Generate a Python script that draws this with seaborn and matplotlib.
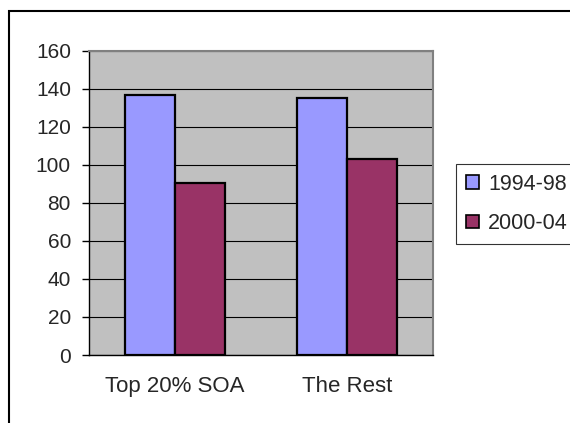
import matplotlib
matplotlib.use("Agg")
import matplotlib.pyplot as plt
from matplotlib.patches import Rectangle
import seaborn as sns
import pandas as pd

categories = ["Top 20% SOA", "The Rest"]
periods = ["1994-98", "2000-04"]
values_1994_98 = [137, 135]
values_2000_04 = [90.5, 103]
y_ticks = [0, 20, 40, 60, 80, 100, 120, 140, 160]

sns.set_style("white")
plt.rcParams["font.family"] = ["Liberation Sans", "DejaVu Sans"]

df = pd.DataFrame({
    "category": categories * 2,
    "period": [periods[0]] * 2 + [periods[1]] * 2,
    "value": values_1994_98 + values_2000_04,
})

W, H = 570, 423
fig = plt.figure(figsize=(W / 100, H / 100), dpi=100)
ax = fig.add_axes([89 / W, 1 - 355 / H, (433 - 89) / W, (355 - 51) / H])

sns.barplot(data=df, x="category", y="value", hue="period", order=categories,
            hue_order=periods, palette=["#9999FF", "#993366"], width=0.58,
            edgecolor="black", linewidth=1.6, ax=ax, saturation=1, legend=True)

ax.set_facecolor("#C0C0C0")
ax.set_xlim(-0.5, 1.5)
ax.set_ylim(0, 160)
ax.set_yticks(y_ticks)
ax.set_yticklabels([str(t) for t in y_ticks])
ax.set_axisbelow(True)
ax.grid(axis="y", color="black", linewidth=0.8)
ax.grid(axis="x", visible=False)
ax.set_xlabel("")
ax.set_ylabel("")

ax.tick_params(axis="x", which="major", length=0, pad=15, labelsize=16)
ax.set_xticks([-0.5, 0.5, 1.5], minor=True)
ax.tick_params(axis="x", which="minor", length=5, width=1, color="black", direction="out")
ax.tick_params(axis="y", length=5, width=1, color="black", direction="out", pad=8, labelsize=15)
ax.tick_params(bottom=True, left=True)

for s in ["left", "bottom"]:
    ax.spines[s].set_color("black")
    ax.spines[s].set_linewidth(1.0)
for s in ["top", "right"]:
    ax.spines[s].set_color("#808080")
    ax.spines[s].set_linewidth(1.5)

handles, labels = ax.get_legend_handles_labels()
ax.get_legend().remove()
leg = fig.legend(handles, labels, loc="upper left",
                 bbox_to_anchor=(456 / W, 1 - 164 / H), bbox_transform=fig.transFigure,
                 borderaxespad=0, frameon=True, fancybox=False, fontsize=15.5,
                 handlelength=0.6, handleheight=0.6, handletextpad=0.45,
                 labelspacing=0.85, borderpad=0.45)
leg.get_frame().set_edgecolor("black")
leg.get_frame().set_linewidth(0.8)
for p in leg.get_patches():
    p.set_edgecolor("black")
    p.set_linewidth(1.2)

fig.patches.append(Rectangle((8.5 / W, -0.1), 1.5, 1.1 - 11 / H, transform=fig.transFigure,
                             fill=False, edgecolor="black", linewidth=1.5, zorder=10))

fig.savefig("out.png", dpi=100)
